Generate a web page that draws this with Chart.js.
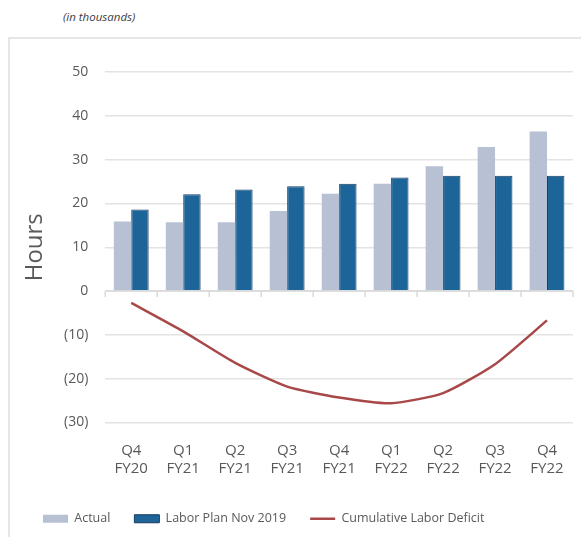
<!DOCTYPE html>
<html>
<head>
<meta charset="utf-8">
<script src="https://cdn.jsdelivr.net/npm/chart.js@4"></script>
<style>
  html, body { margin: 0; padding: 0; background: #fff; width: 581px; height: 537px; overflow: hidden; }
  #note { position: absolute; left: 63px; top: 9px; font: italic 11.5px 'Open Sans', sans-serif; color: #404040; }
  #frame { position: absolute; left: 8px; top: 37px; width: 700px; height: 700px; border-top: 2px solid #e6e6e6; border-left: 2px solid #e6e6e6; }
  #wrap { position: absolute; left: 10px; top: 39px; width: 571px; height: 498px; }
</style>
</head>
<body>
<div id="note">(in thousands)</div>
<div id="frame"></div>
<div id="wrap"><canvas id="c"></canvas></div>
<script>
const categories = [['Q4','FY20'],['Q1','FY21'],['Q2','FY21'],['Q3','FY21'],['Q4','FY21'],['Q1','FY22'],['Q2','FY22'],['Q3','FY22'],['Q4','FY22']];
const actual = [15.9, 15.7, 15.7, 18.3, 22.2, 24.5, 28.5, 32.9, 36.4];
const laborPlan = [18.6, 22.1, 23.2, 23.9, 24.5, 25.9, 26.3, 26.3, 26.3];
const cumulativeDeficit = [-2.7, -9.2, -16.4, -21.8, -24.3, -25.6, -23.3, -16.7, -6.7];
const yTicks = { min: -30, max: 50, step: 10 };

Chart.defaults.font.family = "'Open Sans', sans-serif";
Chart.defaults.color = '#595959';

const zeroAxisPlugin = {
  id: 'zeroAxis',
  afterDatasetsDraw(chart) {
    const { ctx, scales: { x, y }, chartArea } = chart;
    const y0 = y.getPixelForValue(0);
    ctx.save();
    ctx.strokeStyle = '#d9d9d9';
    ctx.lineWidth = 1.5;
    ctx.beginPath();
    ctx.moveTo(chartArea.left, y0);
    ctx.lineTo(chartArea.right, y0);
    const n = x.ticks.length;
    const w = (chartArea.right - chartArea.left) / n;
    for (let i = 0; i <= n; i++) {
      const px = chartArea.left + i * w;
      ctx.moveTo(px, y0);
      ctx.lineTo(px, y0 + 6);
    }
    ctx.stroke();
    ctx.restore();
  }
};

new Chart(document.getElementById('c'), {
  data: {
    labels: categories,
    datasets: [
      { type: 'bar', label: 'Actual', data: actual, backgroundColor: '#b8c0d3', borderWidth: 0, order: 2 },
      { type: 'bar', label: 'Labor Plan Nov 2019', data: laborPlan, backgroundColor: '#1d6599', borderColor: '#173a62', borderWidth: 1, order: 2 },
      { type: 'line', label: 'Cumulative Labor Deficit', data: cumulativeDeficit, borderColor: '#a84848', backgroundColor: '#a84848', borderWidth: 2.5, pointRadius: 0, tension: 0.2, order: 1 }
    ]
  },
  options: {
    responsive: true,
    maintainAspectRatio: false,
    animation: false,
    layout: { padding: { top: 33, right: 8, left: 9, bottom: 2 } },
    datasets: { bar: { categoryPercentage: 0.67, barPercentage: 1.0 } },
    scales: {
      x: {
        grid: { display: false },
        border: { display: false },
        ticks: { font: { size: 15 }, color: '#595959', padding: 11, maxRotation: 0 }
      },
      y: {
        min: yTicks.min, max: yTicks.max,
        grid: { color: '#e3e3e3', lineWidth: 1.5, drawTicks: false },
        border: { display: false },
        ticks: {
          stepSize: yTicks.step, font: { size: 14 }, color: '#595959', padding: 17,
          callback: v => v < 0 ? '(' + (-v) + ')' : String(v)
        },
        title: { display: true, text: 'Hours', font: { size: 24, lineHeight: 1 }, color: '#595959', padding: { top: 4, bottom: 0 } }
      }
    },
    plugins: {
      legend: {
        position: 'bottom',
        align: 'start',
        labels: {
          usePointStyle: true, pointStyleWidth: 25, boxHeight: 8, boxWidth: 25,
          font: { size: 12.5 }, color: '#595959', padding: 24,
          sort: (a, b) => a.datasetIndex - b.datasetIndex,
          generateLabels(chart) {
            const items = Chart.defaults.plugins.legend.labels.generateLabels(chart);
            items.forEach(it => {
              const ds = chart.data.datasets[it.datasetIndex];
              it.pointStyle = ds.type === 'line' ? 'line' : 'rect';
            });
            return items;
          }
        }
      },
      tooltip: { enabled: false }
    }
  },
  plugins: [zeroAxisPlugin]
});
</script>
</body>
</html>
